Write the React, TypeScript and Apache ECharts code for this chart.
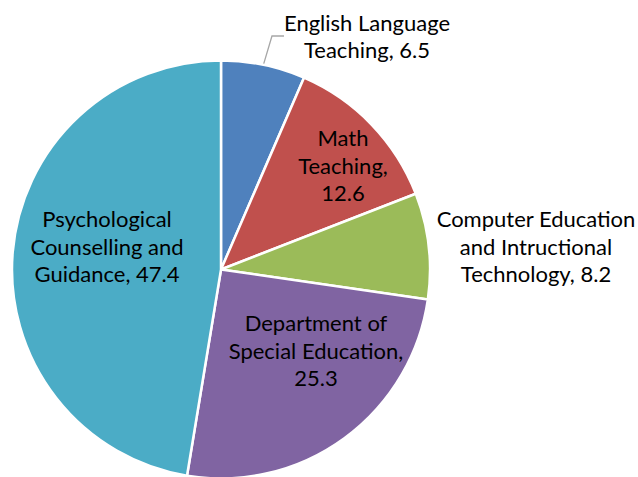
import React, { useEffect, useRef } from "react";
import * as echarts from "echarts";

const categories = [
  "English Language\nTeaching",
  "Math\nTeaching",
  "Computer Education\nand Intructional\nTechnology",
  "Department of\nSpecial Education",
  "Psychological\nCounselling and\nGuidance",
];
const values = [6.5, 12.6, 8.2, 25.3, 47.4];
const colors = ["#4F81BD", "#C0504D", "#9BBB59", "#8064A2", "#4BACC6"];
// label anchor centres (pixels)
const labelPos: [number, number][] = [
  [367, 36],
  [343, 165],
  [536, 246],
  [316, 350],
  [107, 246],
];

export default function App() {
  const ref = useRef<HTMLDivElement>(null);
  useEffect(() => {
    document.body.style.margin = "0";
    const chart = echarts.init(ref.current!, null, { renderer: "svg" });
    chart.setOption({
      animation: false,
      backgroundColor: "#ffffff",
      series: [
        {
          type: "pie",
          center: [221, 269.5],
          radius: 209,
          startAngle: 90,
          clockwise: true,
          avoidLabelOverlap: false,
          itemStyle: { borderColor: "#ffffff", borderWidth: 2.5 },
          label: {
            show: true,
            position: "inside",
            formatter: (p: any) => {
              const name: string = p.name;
              if (p.dataIndex === 3) return "Department of\nSpecial Education,\n" + p.value;
              if (p.dataIndex === 2) return "Computer Education\nand Intructional\nTechnology, " + p.value;
              if (p.dataIndex === 1) return "Math\nTeaching,\n" + p.value;
              return name + ", " + p.value;
            },
            fontFamily: "Lato, 'Open Sans', sans-serif",
            fontSize: 22,
            lineHeight: 27.5,
            color: "#000000",
            align: "center",
          },
          labelLine: { show: false },
          labelLayout: (params: any) => {
            const pos = labelPos[params.dataIndex];
            return { x: pos[0], y: pos[1], align: "center", verticalAlign: "middle" };
          },
          data: values.map((v, i) => ({
            value: v,
            name: categories[i],
            itemStyle: { color: colors[i] },
            label: i === 0 ? { position: "outside" } : undefined,
            labelLine:
              i === 0
                ? { show: true, length: 36, length2: 12, lineStyle: { color: "#A6A6A6", width: 1.3 } }
                : undefined,
          })),
        },
      ],
    });
    return () => chart.dispose();
  }, []);
  return <div ref={ref} style={{ width: 638, height: 477 }} />;
}
